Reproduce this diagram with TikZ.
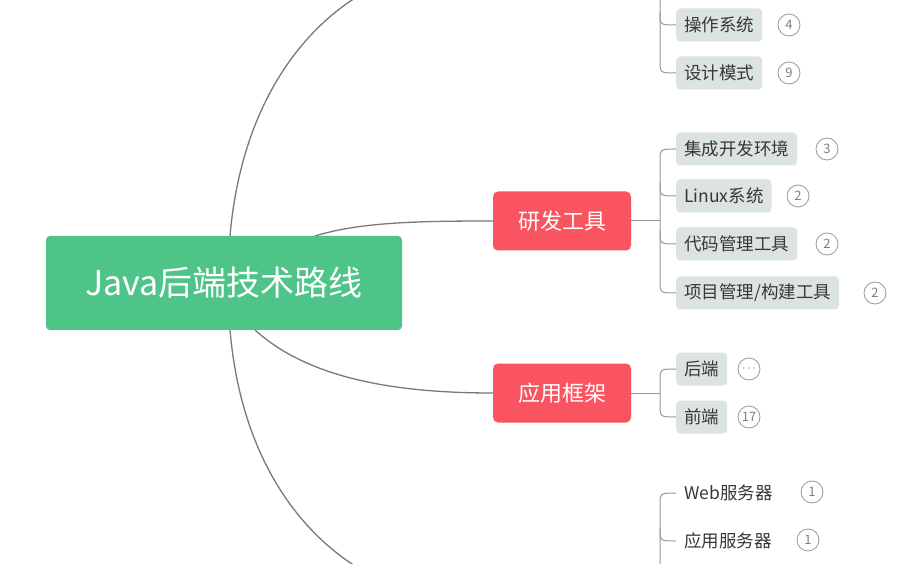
\documentclass[tikz,border=0pt]{standalone}
\usepackage{fontspec}
\setmainfont{Noto Sans CJK SC}
\begin{document}
\begin{tikzpicture}[x=1pt,y=-1pt,
  conn/.style={draw=gray!95!black,line width=1.3pt},
  lconn/.style={draw=gray!80,line width=1pt},
  root/.style={fill={rgb,255:red,79;green,196;blue,137},rounded corners=4pt,text=white,font=\fontsize{34}{36}\selectfont,inner sep=0pt,minimum width=356pt,minimum height=94pt},
  mid/.style={fill={rgb,255:red,249;green,84;blue,95},rounded corners=5pt,text=white,font=\fontsize{22}{24}\selectfont,inner sep=0pt,minimum width=138pt,minimum height=59pt},
  leaf/.style={fill={rgb,255:red,220;green,227;blue,227},rounded corners=4pt,text={rgb,255:red,55;green,55;blue,55},font=\fontsize{17.5}{19}\selectfont,inner xsep=8pt,minimum height=33pt,anchor=west},
  plain/.style={text={rgb,255:red,55;green,55;blue,55},font=\fontsize{17.5}{19}\selectfont,inner xsep=8pt,anchor=west},
  badge/.style={circle,draw=gray!80,line width=0.8pt,minimum size=22pt,inner sep=0pt,text=gray,font=\fontsize{13}{14}\selectfont}]
\path[use as bounding box,fill=white] (0,0) rectangle (903,564);
\node[root] (root) at (224,283) {Java后端技术路线};
\node[mid] (rf) at (562,221) {研发工具};
\node[mid] (yy) at (562,393) {应用框架};
\node[leaf] (l1) at (676,25) {操作系统};
\node[badge] (b1) at (789,25) {4};
\node[leaf] (l2) at (676,73) {设计模式};
\node[badge] (b2) at (789,73) {9};
\node[leaf] (l3) at (676,149) {集成开发环境};
\node[badge] (b3) at (827,149) {3};
\node[leaf] (l4) at (676,196) {Linux系统};
\node[badge] (b4) at (798,196) {2};
\node[leaf] (l5) at (676,244) {代码管理工具};
\node[badge] (b5) at (827,244) {2};
\node[leaf] (l6) at (676,293) {项目管理/构建工具};
\node[badge] (b6) at (875,293) {2};
\node[leaf] (l7) at (676,369) {后端};
\node[badge] (b7) at (749,369) {$\cdots$};
\node[leaf] (l8) at (676,417) {前端};
\node[badge] (b8) at (749,417) {17};
\node[plain] (l9) at (676,493) {Web服务器};
\node[badge] (b9) at (812,492) {1};
\node[plain] (l10) at (676,541) {应用服务器};
\node[badge] (b10) at (808,540) {1};
\coordinate (topend) at (355,-2);
\coordinate (botend) at (355,566);
\coordinate (topbr) at (660,-2);
\coordinate (botbr) at (660,566);
% main connectors
\draw[conn] (230,236) .. controls (240,120) and (290,40) .. (topend);
\draw[conn] (230,330) .. controls (240,446) and (290,524) .. (botend);
\draw[conn] (315,236) .. controls (360,222) and (420,221) .. (rf.west);
\draw[conn] (255,330) .. controls (310,380) and (400,393) .. (yy.west);
% top bracket
\draw[lconn] (topbr) -- (660,60) .. controls (660,73) .. (l2.west);
\draw[lconn] (660,12) .. controls (660,25) .. (l1.west);
% research bracket
\draw[lconn] (rf.east) -- (660,221);
\draw[lconn] (l3.west) .. controls (660,149) .. (660,162) -- (660,280) .. controls (660,293) .. (l6.west);
\draw[lconn] (660,183) .. controls (660,196) .. (l4.west);
\draw[lconn] (660,231) .. controls (660,244) .. (l5.west);
% framework bracket
\draw[lconn] (yy.east) -- (660,393);
\draw[lconn] (l7.west) .. controls (660,369) .. (660,382) -- (660,404) .. controls (660,417) .. (l8.west);
% bottom bracket
\draw[lconn] (l9.west) .. controls (660,493) .. (660,506) -- (botbr);
\draw[lconn] (660,528) .. controls (660,541) .. (l10.west);
\end{tikzpicture}
\end{document}
